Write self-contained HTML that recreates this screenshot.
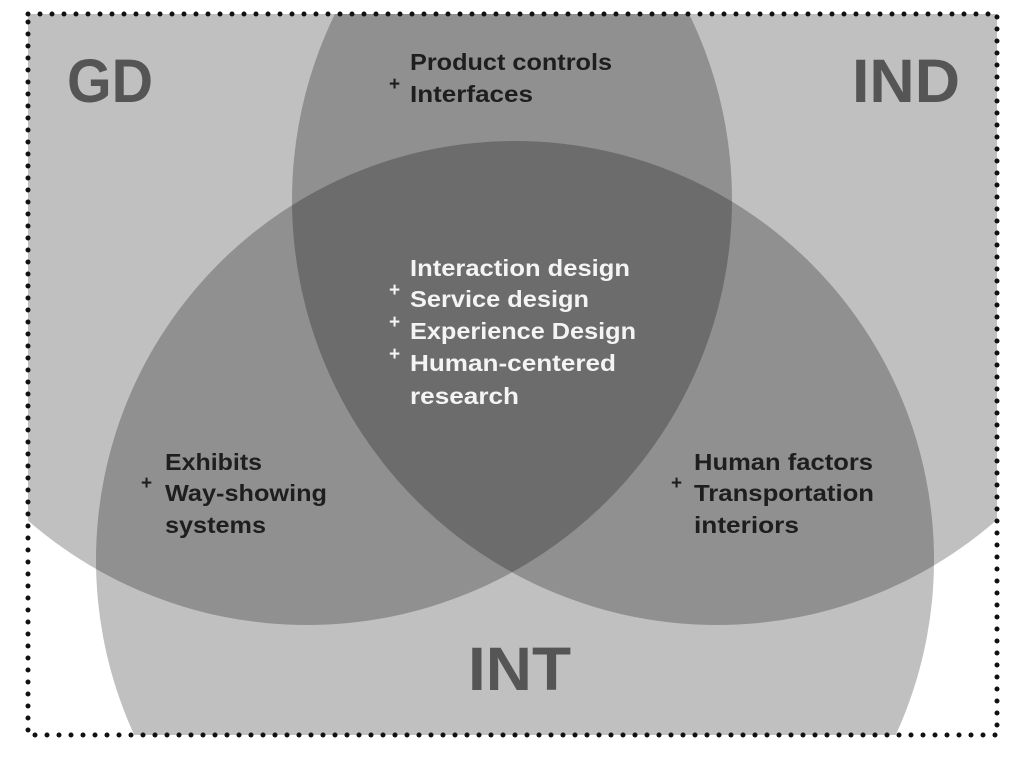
<!DOCTYPE html>
<html><head><meta charset="utf-8"><style>
html,body{margin:0;padding:0;background:#fff;width:1023px;height:761px;overflow:hidden}
svg{display:block;position:absolute;left:0;top:0}
text{font-family:"Liberation Sans",sans-serif;font-weight:bold}
</style></head><body>
<svg width="1023" height="761" viewBox="0 0 1023 761" xmlns="http://www.w3.org/2000/svg">
<defs><clipPath id="c"><rect x="28" y="14" width="969" height="721"/></clipPath></defs>
<g clip-path="url(#c)" fill="#000" fill-opacity="0.247">
<circle cx="307" cy="200" r="425"/>
<circle cx="717" cy="200" r="425"/>
<circle cx="515" cy="560" r="419"/>
</g>
<rect x="28" y="14" width="969" height="721" fill="none" stroke="#111" stroke-width="5" stroke-linecap="round" stroke-dasharray="0 12"/>
<g fill="#555" font-size="61">
<text x="67" y="102" textLength="86" lengthAdjust="spacingAndGlyphs">GD</text>
<text x="852" y="102" textLength="108" lengthAdjust="spacingAndGlyphs">IND</text>
<text x="468" y="690" textLength="103" lengthAdjust="spacingAndGlyphs">INT</text>
</g>
<g fill="#1e1e1e" font-size="23">
<text x="410" y="70" textLength="202" lengthAdjust="spacingAndGlyphs">Product controls</text>
<text x="410" y="102" textLength="123" lengthAdjust="spacingAndGlyphs">Interfaces</text>
<text x="165" y="470" textLength="97" lengthAdjust="spacingAndGlyphs">Exhibits</text>
<text x="165" y="501" textLength="162" lengthAdjust="spacingAndGlyphs">Way-showing</text>
<text x="165" y="533" textLength="101" lengthAdjust="spacingAndGlyphs">systems</text>
<text x="694" y="470" textLength="179" lengthAdjust="spacingAndGlyphs">Human factors</text>
<text x="694" y="501" textLength="180" lengthAdjust="spacingAndGlyphs">Transportation</text>
<text x="694" y="533" textLength="105" lengthAdjust="spacingAndGlyphs">interiors</text>
<text x="389" y="90" font-size="19">+</text>
<text x="141" y="489" font-size="19">+</text>
<text x="671" y="489" font-size="19">+</text>
</g>
<g fill="#f4f4f4" font-size="23">
<text x="410" y="276" textLength="220" lengthAdjust="spacingAndGlyphs">Interaction design</text>
<text x="410" y="307" textLength="179" lengthAdjust="spacingAndGlyphs">Service design</text>
<text x="410" y="339" textLength="226" lengthAdjust="spacingAndGlyphs">Experience Design</text>
<text x="410" y="371" textLength="206" lengthAdjust="spacingAndGlyphs">Human-centered</text>
<text x="410" y="404" textLength="109" lengthAdjust="spacingAndGlyphs">research</text>
<text x="389" y="296" font-size="19">+</text>
<text x="389" y="328" font-size="19">+</text>
<text x="389" y="360" font-size="19">+</text>
</g>
</svg>
</body></html>
